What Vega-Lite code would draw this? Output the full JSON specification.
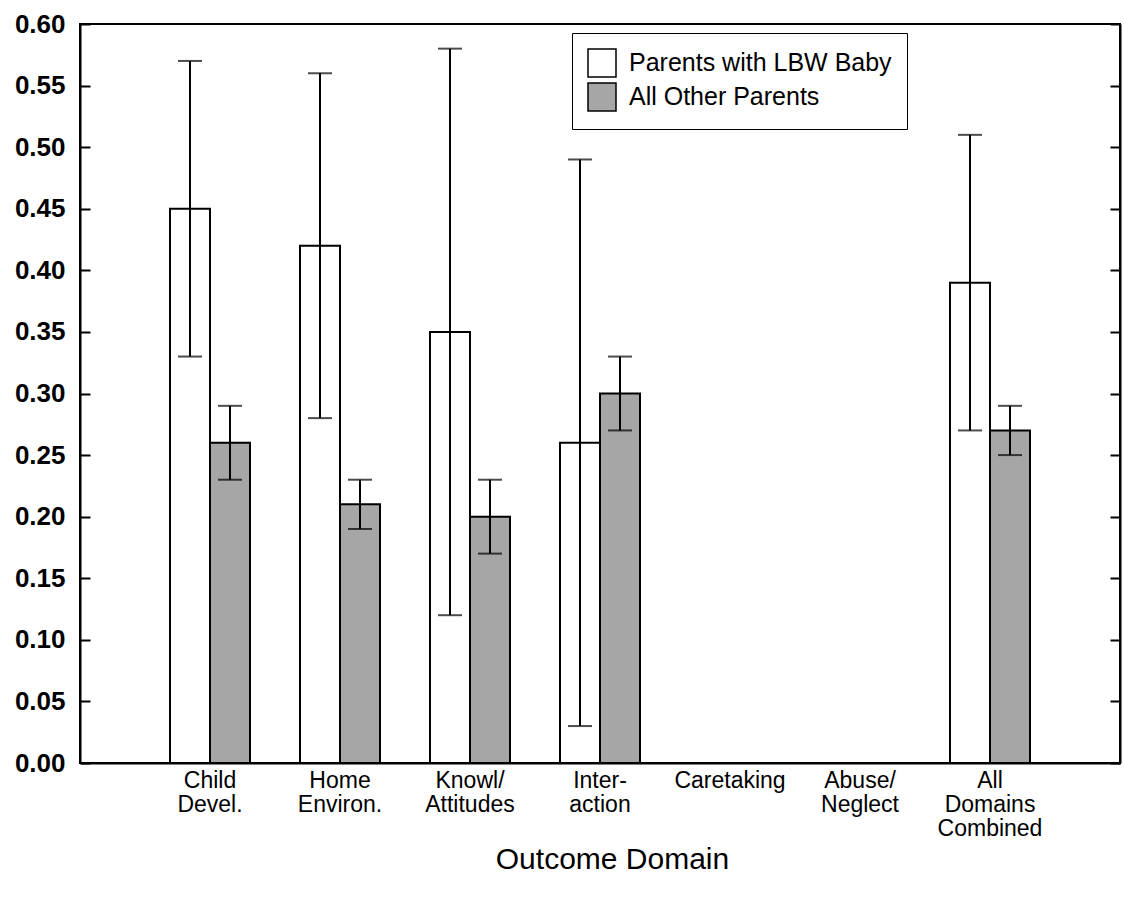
{
  "$schema": "https://vega.github.io/schema/vega-lite/v6.json",
  "autosize": {"type": "none"},
  "width": 1040,
  "height": 739,
  "padding": {"left": 80, "top": 24, "right": 4, "bottom": 138},
  "background": "white",
  "config": {
    "view": {"stroke": "black", "strokeWidth": 2},
    "font": "Liberation Sans"
  },
  "data": {
    "values": [
      {"domain": "Child Devel.", "group": "Parents with LBW Baby", "value": 0.45, "lo": 0.33, "hi": 0.57},
      {"domain": "Child Devel.", "group": "All Other Parents", "value": 0.26, "lo": 0.23, "hi": 0.29},
      {"domain": "Home Environ.", "group": "Parents with LBW Baby", "value": 0.42, "lo": 0.28, "hi": 0.56},
      {"domain": "Home Environ.", "group": "All Other Parents", "value": 0.21, "lo": 0.19, "hi": 0.23},
      {"domain": "Knowl/Attitudes", "group": "Parents with LBW Baby", "value": 0.35, "lo": 0.12, "hi": 0.58},
      {"domain": "Knowl/Attitudes", "group": "All Other Parents", "value": 0.2, "lo": 0.17, "hi": 0.23},
      {"domain": "Interaction", "group": "Parents with LBW Baby", "value": 0.26, "lo": 0.03, "hi": 0.49},
      {"domain": "Interaction", "group": "All Other Parents", "value": 0.3, "lo": 0.27, "hi": 0.33},
      {"domain": "All Domains Combined", "group": "Parents with LBW Baby", "value": 0.39, "lo": 0.27, "hi": 0.51},
      {"domain": "All Domains Combined", "group": "All Other Parents", "value": 0.27, "lo": 0.25, "hi": 0.29}
    ]
  },
  "encoding": {
    "x": {
      "field": "domain",
      "type": "nominal",
      "scale": {
        "domain": ["Child Devel.", "Home Environ.", "Knowl/Attitudes", "Interaction", "Caretaking", "Abuse/Neglect", "All Domains Combined"],
        "paddingInner": 0,
        "paddingOuter": 0.5
      },
      "axis": {
        "title": "Outcome Domain",
        "titleFontSize": 30,
        "titleFontWeight": "normal",
        "titleColor": "black",
        "titlePadding": 4,
        "titleX": 532,
        "labelAngle": 0,
        "labelFontSize": 23,
        "labelColor": "black",
        "labelLineHeight": 24,
        "labelPadding": 6,
        "labelExpr": "{'Child Devel.':['Child','Devel.'],'Home Environ.':['Home','Environ.'],'Knowl/Attitudes':['Knowl/','Attitudes'],'Interaction':['Inter-','action'],'Caretaking':['Caretaking'],'Abuse/Neglect':['Abuse/','Neglect'],'All Domains Combined':['All','Domains','Combined']}[datum.label]",
        "ticks": false,
        "domainColor": "black",
        "domainWidth": 2
      }
    },
    "xOffset": {
      "field": "group",
      "type": "nominal",
      "sort": ["Parents with LBW Baby", "All Other Parents"],
      "scale": {"paddingInner": 0, "paddingOuter": 0.625}
    }
  },
  "layer": [
    {
      "mark": {"type": "bar", "stroke": "black", "strokeWidth": 2},
      "encoding": {
        "y": {
          "field": "value",
          "type": "quantitative",
          "scale": {"domain": [0, 0.6], "nice": false},
          "axis": {
            "title": null,
            "orient": "left",
            "values": [0, 0.05, 0.1, 0.15, 0.2, 0.25, 0.3, 0.35, 0.4, 0.45, 0.5, 0.55, 0.6],
            "format": ".2f",
            "labelFontSize": 26,
            "labelFontWeight": "bold",
            "labelColor": "black",
            "tickSize": -10,
            "tickColor": "black",
            "tickWidth": 2,
            "labelPadding": 25,
            "grid": false,
            "domainColor": "black",
            "domainWidth": 2
          }
        },
        "fill": {
          "field": "group",
          "type": "nominal",
          "sort": ["Parents with LBW Baby", "All Other Parents"],
          "scale": {"domain": ["Parents with LBW Baby", "All Other Parents"], "range": ["white", "#a6a6a6"]},
          "legend": {
            "title": null,
            "orient": "none",
            "legendX": 492,
            "legendY": 9,
            "strokeColor": "black",
            "padding": 15,
            "symbolType": "square",
            "symbolSize": 784,
            "symbolStrokeColor": "black",
            "symbolStrokeWidth": 1.5,
            "symbolOpacity": 1,
            "labelFontSize": 25,
            "labelColor": "black",
            "labelOffset": 12,
            "rowPadding": 0,
            "labelLimit": 400
          }
        }
      }
    },
    {
      "mark": {"type": "rule", "stroke": "black", "strokeWidth": 2},
      "encoding": {
        "y": {
          "field": "lo",
          "type": "quantitative",
          "scale": {"domain": [0, 0.6], "nice": false},
          "axis": {
            "title": null,
            "orient": "right",
            "labels": false,
            "values": [0, 0.05, 0.1, 0.15, 0.2, 0.25, 0.3, 0.35, 0.4, 0.45, 0.5, 0.55, 0.6],
            "tickSize": -10,
            "tickColor": "black",
            "tickWidth": 2,
            "grid": false,
            "domainColor": "black",
            "domainWidth": 2
          }
        },
        "y2": {"field": "hi"}
      }
    },
    {
      "mark": {"type": "tick", "color": "black", "thickness": 2, "size": 24, "orient": "horizontal"},
      "encoding": {
        "y": {"field": "lo", "type": "quantitative", "scale": {"domain": [0, 0.6], "nice": false}, "axis": null}
      }
    },
    {
      "mark": {"type": "tick", "color": "black", "thickness": 2, "size": 24, "orient": "horizontal"},
      "encoding": {
        "y": {"field": "hi", "type": "quantitative", "scale": {"domain": [0, 0.6], "nice": false}, "axis": null}
      }
    }
  ],
  "resolve": {"axis": {"y": "independent"}}
}
